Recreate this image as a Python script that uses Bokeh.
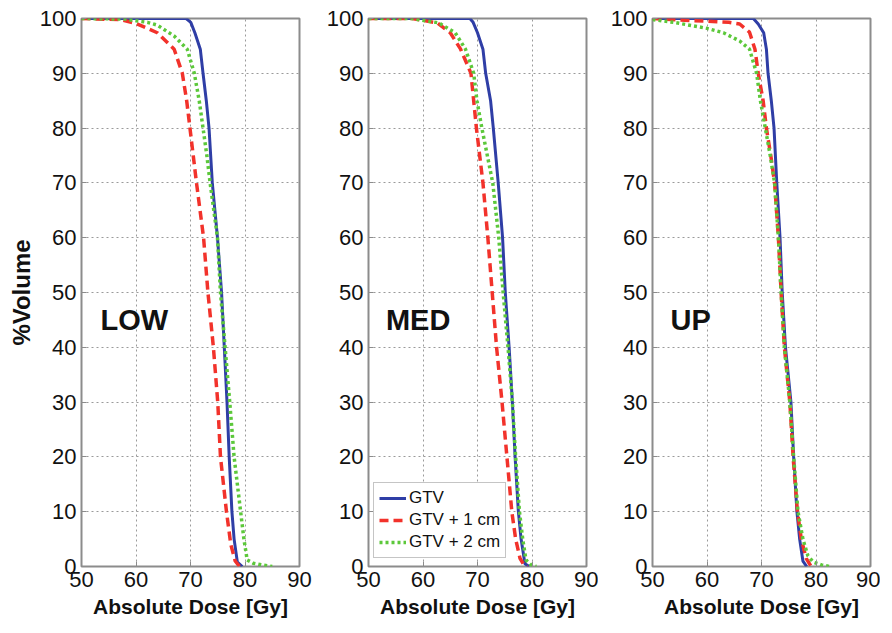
from bokeh.plotting import figure
from bokeh.layouts import row
from bokeh.models import Range1d, FixedTicker, Label
from bokeh.embed import file_html
from bokeh.resources import INLINE

# ---------------- data ----------------
x_ticks = [50, 60, 70, 80, 90]
y_ticks = [0, 10, 20, 30, 40, 50, 60, 70, 80, 90, 100]
panel_names = ["LOW", "MED", "UP"]
series_names = ["GTV", "GTV + 1 cm", "GTV + 2 cm"]

# LOW
low_gtv_dose = [50, 69.2, 70.05, 70.8, 71.8, 72.3, 72.9, 73.4, 74.0, 74.95, 75.7, 76.2, 76.7, 77.1, 77.6, 78.0, 78.6, 79.5]
low_gtv_vol = [100, 100, 99.3, 97.4, 94.4, 90, 85, 80, 70, 60, 50, 40, 30, 20, 10, 5, 0.8, 0]
low_gtv1_dose = [50, 57.2, 60, 63.9, 67, 68.5, 69.3, 69.9, 70.5, 71.1, 72.4, 73.2, 74.2, 75.0, 75.5, 76.6, 77.4, 78.2, 79]
low_gtv1_vol = [100, 99.8, 99.1, 97.4, 94.4, 90, 85, 80, 75, 70, 60, 50, 40, 30, 20, 10, 4, 1, 0]
low_gtv2_dose = [50, 58, 60, 62.1, 63.9, 67, 69.4, 70.7, 71.6, 72.3, 73.0, 73.6, 74.95, 75.5, 76.35, 77.2, 78.0, 79.2, 79.8, 80.4, 81.5, 83, 85]
low_gtv2_vol = [100, 99.9, 99.6, 99.3, 98.8, 96.8, 94.4, 90, 85, 80, 75, 70, 60, 50, 40, 30, 20, 10, 5, 1.2, 0.6, 0.3, 0]

# MED
med_gtv_dose = [50, 68.6, 69.2, 70.0, 71.0, 71.5, 72.4, 72.9, 73.8, 74.6, 75.1, 75.8, 76.4, 76.9, 77.5, 78.0, 78.7, 79.5]
med_gtv_vol = [100, 100, 99.3, 97.4, 94.4, 90, 85, 80, 70, 60, 50, 40, 30, 20, 10, 5, 0.5, 0]
med_gtv1_dose = [50, 58, 62.6, 65.0, 66.9, 68.8, 69.3, 69.8, 70.4, 71.0, 71.9, 72.7, 73.5, 74.5, 75.4, 76.3, 77.0, 77.8, 78.5, 79.2]
med_gtv1_vol = [100, 100, 99.2, 97.4, 94.4, 90, 85, 80, 75, 70, 60, 50, 40, 30, 20, 10, 5, 1.5, 0.3, 0]
med_gtv2_dose = [50, 58, 62.9, 65.9, 67.8, 69.3, 69.9, 70.8, 71.8, 72.8, 73.9, 74.7, 75.6, 76.4, 77.0, 77.7, 78.3, 78.9, 79.8, 80.8]
med_gtv2_vol = [100, 100, 99.2, 97.4, 94.4, 90, 85, 80, 75, 70, 60, 50, 40, 30, 20, 10, 5, 1.2, 0.3, 0]

# UP
up_gtv_dose = [50, 68.5, 69.4, 70.4, 70.9, 71.2, 71.8, 72.3, 72.8, 73.4, 73.8, 74.4, 75.4, 75.9, 76.5, 77.0, 77.6, 78.3]
up_gtv_vol = [100, 100, 99.0, 97.4, 94.4, 90, 85, 80, 70, 60, 50, 40, 30, 20, 10, 5, 1, 0]
up_gtv1_dose = [50, 57, 60, 64, 66, 67.8, 68.8, 69.4, 70.3, 70.9, 71.7, 72.4, 73.1, 73.6, 74.2, 75.2, 75.8, 76.6, 77.3, 78.2, 79.1]
up_gtv1_vol = [100, 99.6, 99.5, 99.3, 99.0, 97.5, 94.4, 90, 85, 80, 75, 70, 60, 50, 40, 30, 20, 10, 5, 1.5, 0]
up_gtv2_dose = [50, 53.9, 60, 63, 66, 67.8, 69.1, 69.8, 70.7, 71.6, 72.4, 73.1, 73.6, 74.2, 75.2, 75.9, 76.7, 77.6, 78.5, 79.5, 81, 82.5]
up_gtv2_vol = [99.8, 99.3, 98.2, 97.4, 95.9, 94.4, 90, 85, 80, 75, 70, 60, 50, 40, 30, 20, 10, 5, 2, 0.8, 0.3, 0]

panels = [
    [(low_gtv_dose, low_gtv_vol), (low_gtv1_dose, low_gtv1_vol), (low_gtv2_dose, low_gtv2_vol)],
    [(med_gtv_dose, med_gtv_vol), (med_gtv1_dose, med_gtv1_vol), (med_gtv2_dose, med_gtv2_vol)],
    [(up_gtv_dose, up_gtv_vol), (up_gtv1_dose, up_gtv1_vol), (up_gtv2_dose, up_gtv2_vol)],
]

# ---------------- styling ----------------
FONT = "Liberation Sans"
colors = ["#2f3ea6", "#f2322b", "#5cc83a"]
dashes = ["solid", "9 5", "3 3"]
widths = [3, 3.5, 3.5]
borders = [(81, 15), (54, 12), (54, 10)]
label_pos = [(53.5, 44.9), (53.2, 44.9), (53.3, 44.9)]

figs = []
for i, (name, series) in enumerate(zip(panel_names, panels)):
    bl, br = borders[i]
    p = figure(frame_width=218, frame_height=548,
               x_range=Range1d(50, 90), y_range=Range1d(0, 100),
               output_backend="svg", toolbar_location=None,
               min_border_left=bl, min_border_right=br,
               min_border_top=18, min_border_bottom=50)
    p.background_fill_color = "white"
    p.border_fill_color = "white"
    p.outline_line_color = "#8c8c8c"
    p.outline_line_width = 2

    p.xaxis.ticker = FixedTicker(ticks=x_ticks)
    p.yaxis.ticker = FixedTicker(ticks=y_ticks)
    for ax in (p.xaxis[0], p.yaxis[0]):
        ax.axis_line_color = None
        ax.major_tick_in = 5
        ax.major_tick_out = 0
        ax.major_tick_line_color = "#8c8c8c"
        ax.minor_tick_line_color = None
        ax.major_label_text_font = FONT
        ax.major_label_text_font_size = "22px"
        ax.major_label_text_color = "#111111"
        ax.major_label_standoff = 5
    p.xaxis.axis_label = "Absolute Dose [Gy]"
    p.xaxis.axis_label_text_font = FONT
    p.xaxis.axis_label_text_font_size = "21px"
    p.xaxis.axis_label_text_font_style = "bold"
    p.xaxis.axis_label_text_color = "#111111"
    p.xaxis.axis_label_standoff = 5
    if i == 0:
        p.yaxis.axis_label = "%Volume"
        p.yaxis.axis_label_text_font = FONT
        p.yaxis.axis_label_text_font_size = "24px"
        p.yaxis.axis_label_text_font_style = "bold"
        p.yaxis.axis_label_text_color = "#111111"
        p.yaxis.axis_label_standoff = 2

    for g in (p.xgrid[0], p.ygrid[0]):
        g.grid_line_color = "#9a9a9a"
        g.grid_line_dash = "2 3"
        g.grid_line_width = 1

    for j, (dose, vol) in enumerate(series):
        kw = dict(line_color=colors[j], line_width=widths[j], line_dash=dashes[j])
        if i == 1:
            kw["legend_label"] = series_names[j]
        p.line(dose, vol, **kw)

    lx, ly = label_pos[i]
    p.add_layout(Label(x=lx, y=ly, text=name, text_font=FONT, text_font_size="29px",
                       text_font_style="bold", text_baseline="middle", text_color="#111111"))

    if i == 1:
        lg = p.legend[0]
        lg.location = (5, 8)
        lg.label_text_font = FONT
        lg.label_text_font_size = "17px"
        lg.label_text_color = "#111111"
        lg.label_height = 18
        lg.glyph_height = 18
        lg.glyph_width = 27
        lg.spacing = 2
        lg.padding = 5
        lg.margin = 0
        lg.label_standoff = 3
        lg.border_line_color = "#8c8c8c"
        lg.border_line_width = 1.5
        lg.background_fill_color = "white"
        lg.background_fill_alpha = 1
    figs.append(p)

layout = row(*figs)
open("out.html", "w").write(file_html(layout, INLINE))
